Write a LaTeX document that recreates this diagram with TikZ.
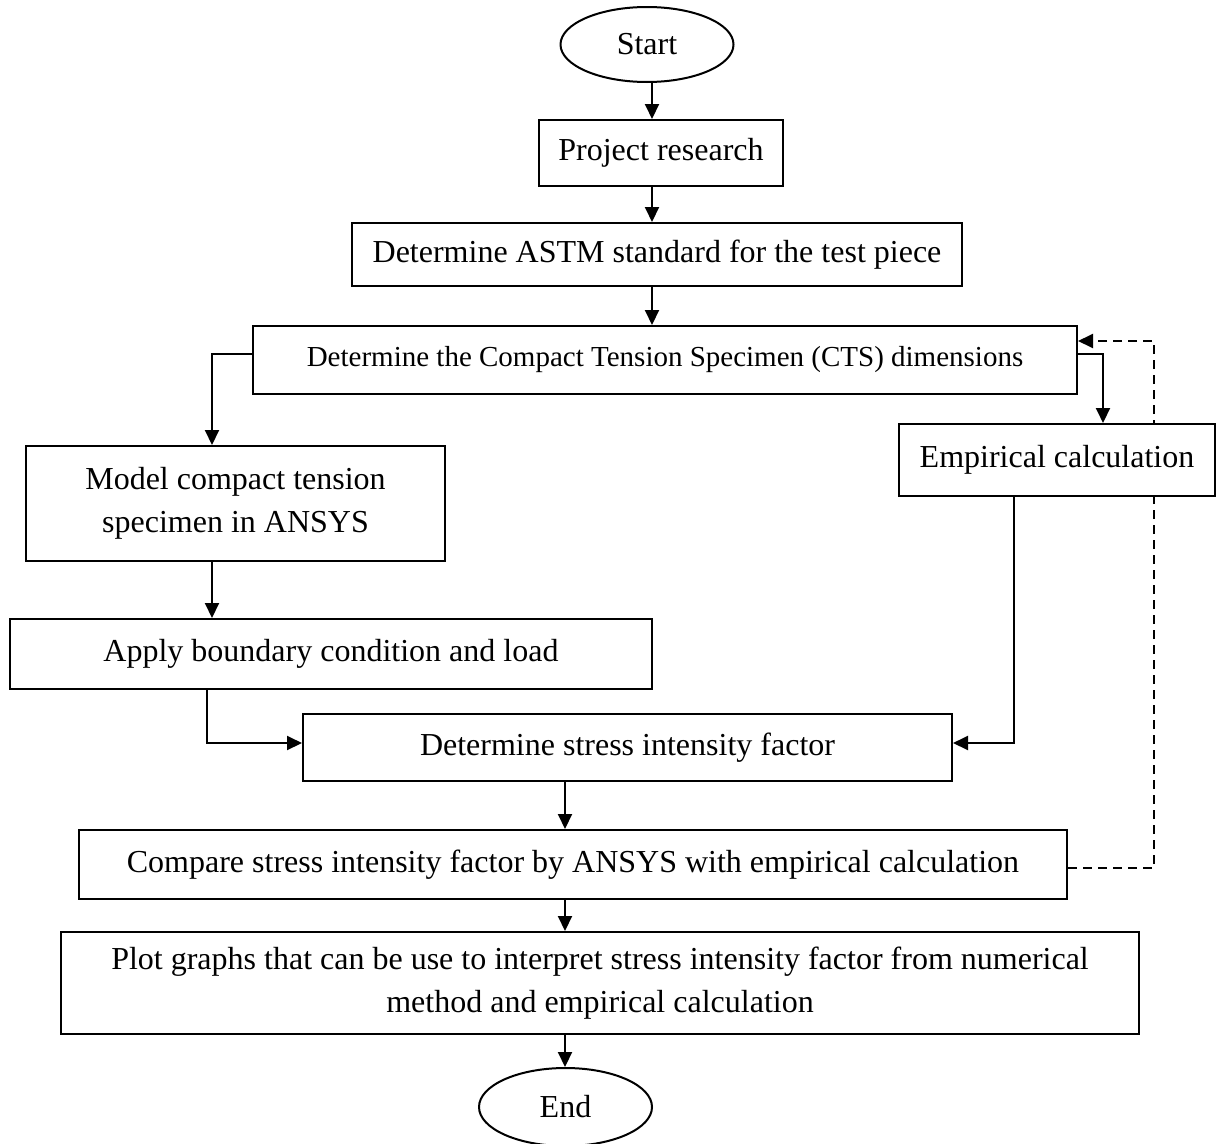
\documentclass[tikz,border=0pt]{standalone}
\usepackage{fontspec}
\setmainfont{Liberation Serif}
\usetikzlibrary{shapes.geometric,arrows.meta}

\begin{document}
\begin{tikzpicture}[x=1pt, y=1pt, line width=2pt,
  every node/.style={font=\fontsize{32}{43}\selectfont, inner sep=0pt},
  stepbox/.style={rectangle, draw, fill=white},
  term/.style={ellipse, draw, fill=white},
  flow/.style={-{Triangle[length=15pt, width=14pt]}}]
  \useasboundingbox (0,0) rectangle (1217,-1143);
  % Terminals
  \node[term, minimum width=173, minimum height=75] (start) at (647,-44.5) {Start};
  \node[term, minimum width=173, minimum height=78] (stop) at (565.5,-1107) {End};
  % Process boxes, top to bottom
  \node[stepbox, minimum width=244, minimum height=66] (proj) at (661,-153) {Project research};
  \node[stepbox, minimum width=610, minimum height=63] (astm) at (657,-254.5) {Determine ASTM standard for the test piece};
  \node[stepbox, minimum width=824, minimum height=68, font=\fontsize{29}{36}\selectfont] (cts) at (665,-360) {Determine the Compact Tension Specimen (CTS) dimensions};
  \node[stepbox, minimum width=419, minimum height=115, align=center] (model) at (235.5,-503.5) {Model compact tension\\specimen in ANSYS};
  \node[stepbox, minimum width=642, minimum height=70] (apply) at (331,-654) {Apply boundary condition and load};
  \node[stepbox, minimum width=649, minimum height=67] (sif) at (627.5,-747.5) {Determine stress intensity factor};
  \node[stepbox, minimum width=988, minimum height=69] (comp) at (573,-864.5) {Compare stress intensity factor by ANSYS with empirical calculation};
  \node[stepbox, minimum width=1078, minimum height=102, align=center] (plot) at (600,-983) {Plot graphs that can be use to interpret stress intensity factor from numerical\\method and empirical calculation};
  % Bend points
  \coordinate (ctsL) at (212,-354);
  \coordinate (ctsR) at (1103,-354);
  \coordinate (fbA) at (1154,-868);
  \coordinate (fbB) at (1154,-341);
  % Feedback loop (runs behind the empirical box)
  \draw[flow, dash pattern=on 9pt off 6pt] (comp.east |- fbA) -- (fbA) -- (fbB) -- (cts.east |- fbB);
  \node[stepbox, minimum width=316, minimum height=72] (emp) at (1057,-460) {Empirical calculation};
  % Main flow
  \draw[flow] (start.south -| 652,0) -- (proj.north -| 652,0);
  \draw[flow] (proj.south -| 652,0) -- (astm.north -| 652,0);
  \draw[flow] (astm.south -| 652,0) -- (cts.north -| 652,0);
  \draw[flow] (cts.west |- ctsL) -- (ctsL) -- (model.north -| ctsL);
  \draw[flow] (cts.east |- ctsR) -- (ctsR) -- (emp.north -| ctsR);
  \draw[flow] (model.south -| ctsL) -- (apply.north -| ctsL);
  \draw[flow] (apply.south -| 207,0) -- (207,-743) -- (sif.west |- 0,-743);
  \draw[flow] (emp.south -| 1014,0) -- (1014,-743) -- (sif.east |- 0,-743);
  \draw[flow] (sif.south -| 565,0) -- (comp.north -| 565,0);
  \draw[flow] (comp.south -| 565,0) -- (plot.north -| 565,0);
  \draw[flow] (plot.south -| 565,0) -- (stop.north -| 565,0);
\end{tikzpicture}
\end{document}
